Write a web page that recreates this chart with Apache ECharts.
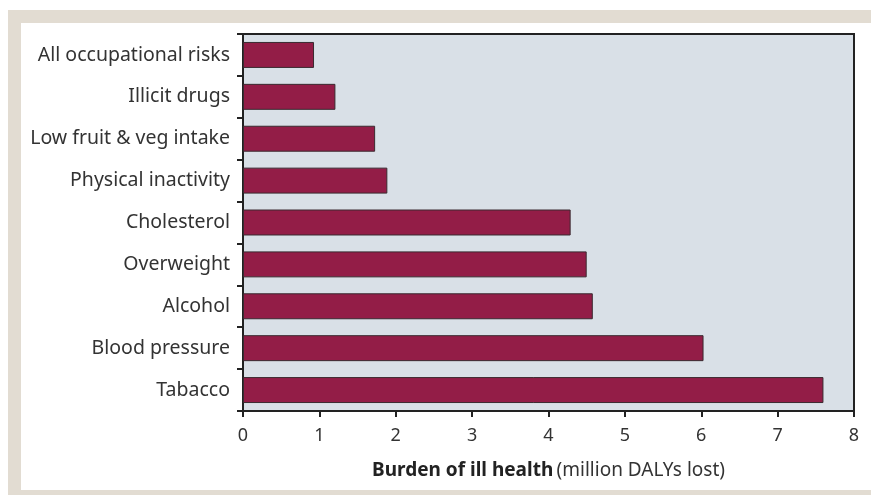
<!DOCTYPE html>
<html><head><meta charset="utf-8">
<script src="https://cdn.jsdelivr.net/npm/echarts@6/dist/echarts.min.js"></script>
<style>html,body{margin:0;padding:0;background:#fff}#c{width:871px;height:495px}</style>
</head><body><div id="c"></div>
<script>
const categories = ["Tabacco","Blood pressure","Alcohol","Overweight","Cholesterol","Physical inactivity","Low fruit & veg intake","Illicit drugs","All occupational risks"];
const values = [7.60, 6.03, 4.58, 4.50, 4.29, 1.89, 1.73, 1.21, 0.93];
const xTicks = [0,1,2,3,4,5,6,7,8];
const FONT = "Noto Sans";
const chart = echarts.init(document.getElementById('c'), null, {renderer:'canvas'});
chart.setOption({
  animation:false,
  graphic:[
    {type:'rect', z:-10, shape:{x:8,y:10,width:863,height:485}, style:{fill:'#e2dcd2'}},
    {type:'rect', z:-9, shape:{x:21,y:23,width:850,height:467}, style:{fill:'#ffffff'}}
  ],
  grid:{left:243, top:34, right:17, bottom:84, show:true, backgroundColor:'#d9e0e7', borderColor:'#222', borderWidth:2},
  xAxis:{type:'value', min:xTicks[0], max:xTicks[xTicks.length-1], interval:1,
    axisLine:{show:true, lineStyle:{color:'#222', width:2}},
    axisTick:{show:true, length:6, lineStyle:{color:'#222', width:2}},
    axisLabel:{color:'#333', fontFamily:FONT, fontSize:18, margin:16},
    splitLine:{show:false},
    name:'{b|Burden of ill health} {n|(million DALYs lost)}', nameLocation:'middle', nameGap:50,
    nameTextStyle:{rich:{b:{fontFamily:FONT, fontWeight:'bold', fontSize:19, color:'#222'}, n:{fontFamily:FONT, fontSize:19, color:'#333'}}}
  },
  yAxis:{type:'category', data:categories,
    axisLine:{show:true, lineStyle:{color:'#222', width:2}},
    axisTick:{show:true, length:6, lineStyle:{color:'#222', width:2}},
    axisLabel:{color:'#333', fontFamily:FONT, fontSize:19.5, margin:13}
  },
  series:[{type:'bar', data:values, barWidth:'62%',
    itemStyle:{color:'#931d47', borderColor:'#3a2a30', borderWidth:1}}]
});
</script></body></html>
